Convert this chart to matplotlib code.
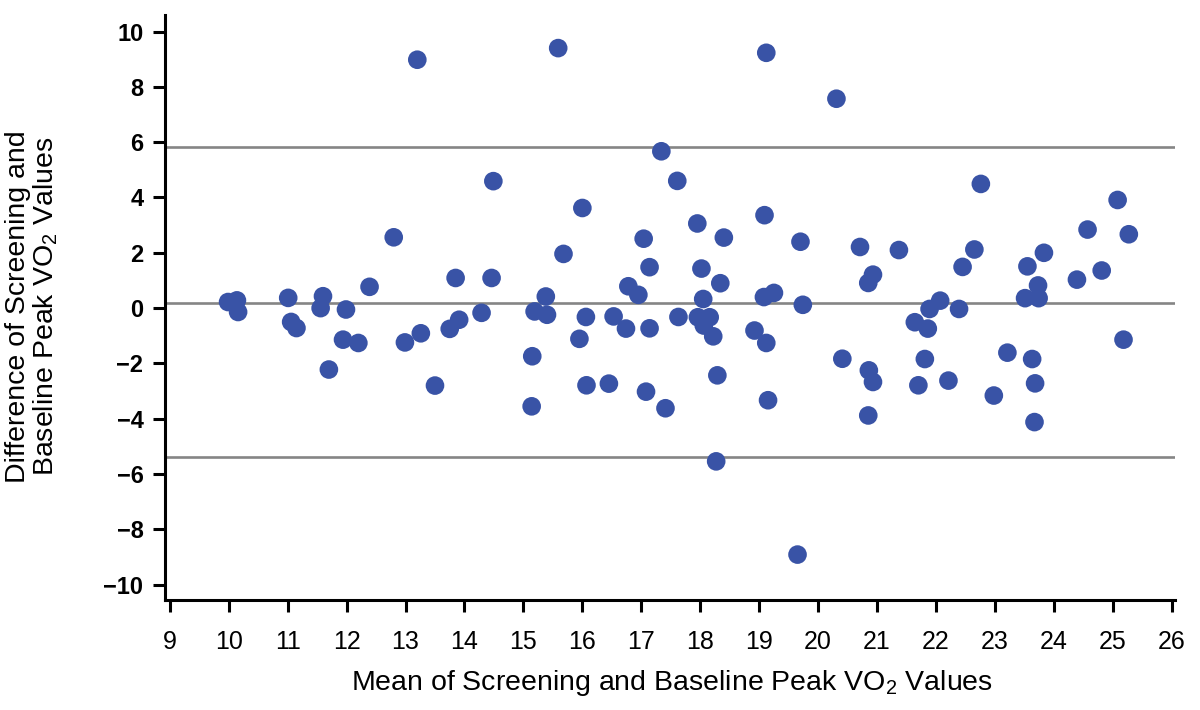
import numpy as np
import matplotlib
matplotlib.use('Agg')
import matplotlib.pyplot as plt

plt.rcParams['font.family'] = ['Liberation Sans', 'DejaVu Sans']
plt.rcParams['mathtext.fontset'] = 'custom'
plt.rcParams['mathtext.rm'] = 'Liberation Sans'
plt.rcParams['mathtext.it'] = 'Liberation Sans'

# mean of screening and baseline (x), difference (y)
mean_vo2 = [9.99, 10.14, 10.16, 11.01, 11.06, 11.15, 11.60, 11.56, 11.70, 11.99,
            11.94, 12.20, 12.39, 12.80, 12.99, 13.20, 13.26, 13.50, 13.75, 13.85,
            13.91, 14.29, 14.46, 14.49, 15.14, 15.15, 15.19, 15.38, 15.40, 15.59,
            15.68, 15.95, 16.00, 16.06, 16.07, 16.45, 16.53, 16.74, 16.78, 16.95,
            17.04, 17.08, 17.14, 17.14, 17.34, 17.41, 17.61, 17.63, 17.95, 17.96,
            18.02, 18.05, 18.06, 18.16, 18.22, 18.27, 18.29, 18.34, 18.40, 18.92,
            19.08, 19.09, 19.12, 19.12, 19.15, 19.25, 19.65, 19.70, 19.74, 20.31,
            20.41, 20.71, 20.85, 20.85, 20.86, 20.93, 20.93, 21.37, 21.64, 21.70,
            21.81, 21.86, 21.89, 22.07, 22.21, 22.39, 22.45, 22.65, 22.76, 22.98,
            23.21, 23.51, 23.55, 23.63, 23.67, 23.68, 23.73, 23.74, 23.83, 24.39,
            24.57, 24.81, 25.08, 25.18, 25.27]
diff_vo2 = [0.22, 0.28, -0.14, 0.37, -0.50, -0.72, 0.43, 0.00, -2.22, -0.05,
            -1.14, -1.26, 0.77, 2.56, -1.24, 8.98, -0.91, -2.80, -0.75, 1.09,
            -0.42, -0.17, 1.09, 4.59, -3.55, -1.74, -0.12, 0.42, -0.24, 9.40,
            1.96, -1.11, 3.62, -0.32, -2.79, -2.73, -0.30, -0.74, 0.79, 0.48,
            2.51, -3.02, 1.48, -0.73, 5.67, -3.62, 4.60, -0.32, 3.06, -0.33,
            1.43, 0.33, -0.63, -0.33, -1.02, -5.54, -2.43, 0.90, 2.55, -0.81,
            0.40, 3.36, 9.23, -1.26, -3.33, 0.55, -8.91, 2.40, 0.12, 7.57,
            -1.83, 2.21, 0.91, -3.88, -2.25, 1.21, -2.67, 2.10, -0.51, -2.79,
            -1.84, -0.74, -0.03, 0.27, -2.62, -0.03, 1.49, 2.12, 4.49, -3.16,
            -1.61, 0.36, 1.51, -1.84, -4.12, -2.72, 0.82, 0.36, 2.00, 1.03,
            2.84, 1.36, 3.91, -1.14, 2.67]

# mean difference and limits of agreement
ref_lines = [5.84, 0.19, -5.38]

fig = plt.figure(figsize=(12, 7.1), dpi=100)
ax = fig.add_axes([0.1375, 0.155, 0.8415, 0.824])

for y in ref_lines:
    ax.axhline(y, color='#858585', lw=1.9, zorder=1)

ax.scatter(mean_vo2, diff_vo2, s=180, color='#3953a6', edgecolors='none', zorder=3)

ax.set_xlim(8.92, 26.05)
ax.set_ylim(-10.55, 10.6)
ax.set_xticks(np.arange(9, 27, 1))
ax.set_yticks(np.arange(-10, 11, 2))

for side in ['top', 'right']:
    ax.spines[side].set_visible(False)
for side in ['left', 'bottom']:
    ax.spines[side].set_linewidth(2.2)
    ax.spines[side].set_color('black')

ax.tick_params(axis='both', direction='out', length=8.5, width=2.2)
ax.tick_params(axis='y', labelsize=17, pad=7)
ax.tick_params(axis='x', labelsize=18, pad=13)
for lab in ax.get_yticklabels():
    lab.set_fontweight('bold')

fig.text(0.56, 0.038, 'Mean of Screening and Baseline Peak VO$_2$ Values',
         fontsize=20.5, ha='center', va='center')
fig.text(0.027, 0.568, 'Difference of Screening and\nBaseline Peak VO$_2$ Values',
         fontsize=20.5, ha='center', va='center', rotation=90,
         multialignment='center', linespacing=1.0)

fig.savefig('out.png', dpi=100)
